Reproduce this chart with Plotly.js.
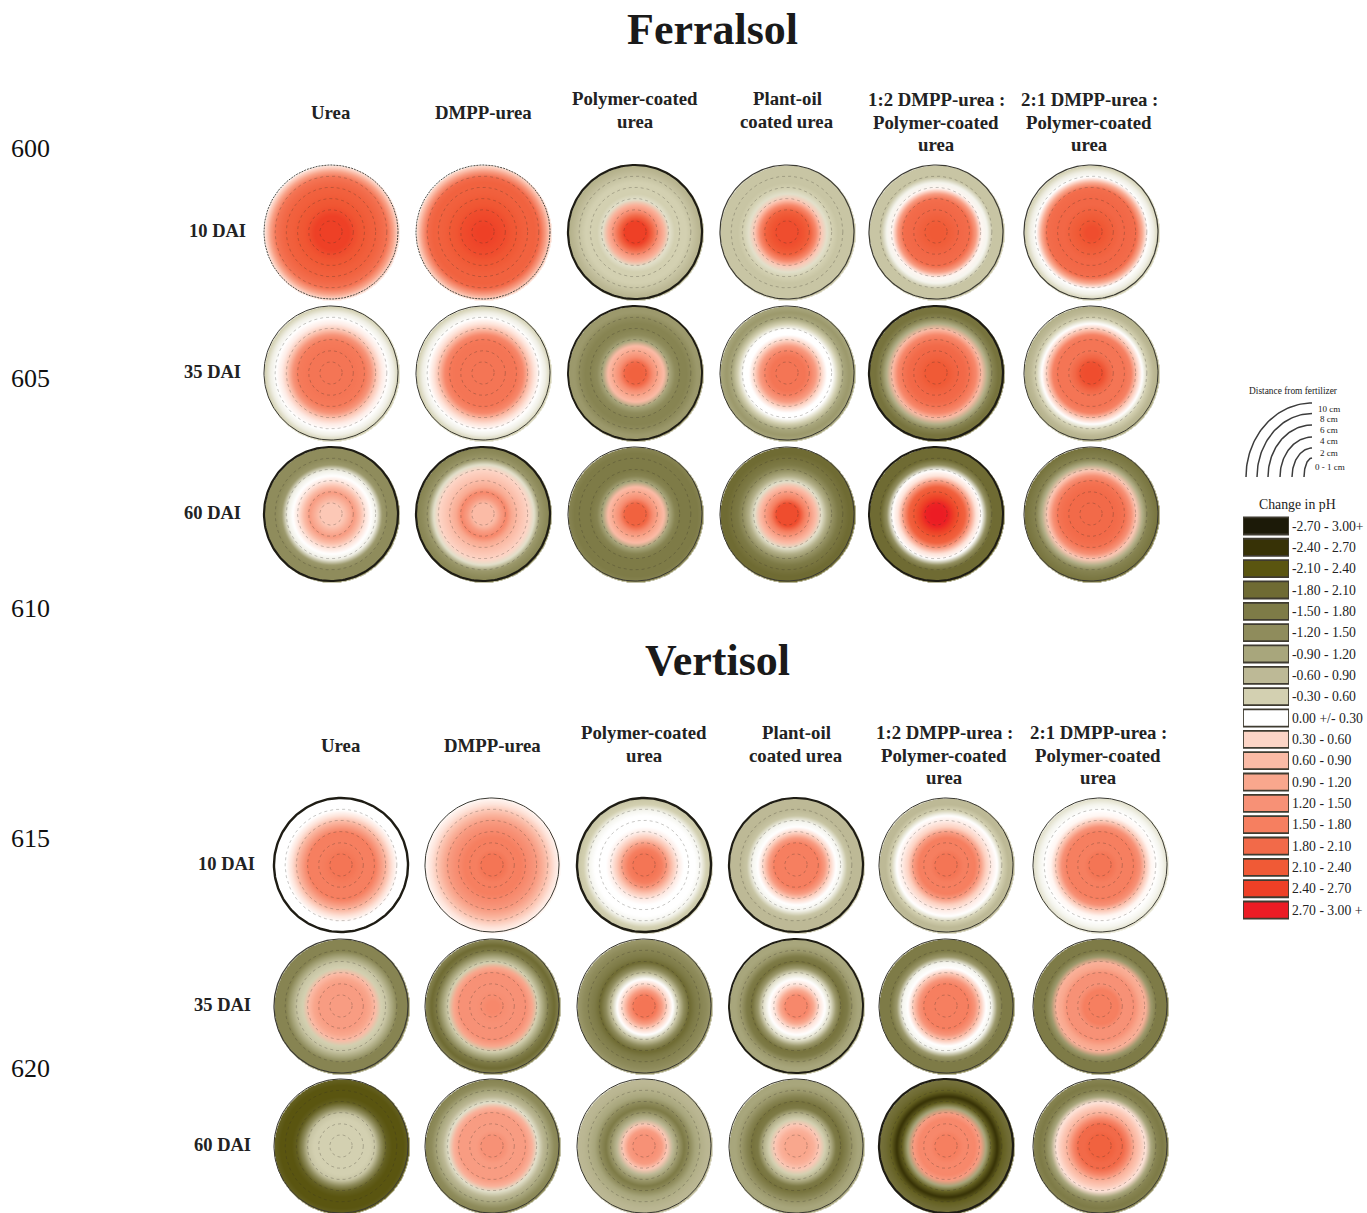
<!DOCTYPE html>
<html><head><meta charset="utf-8">
<script src="https://cdn.plot.ly/plotly-3.0.1.min.js"></script>
<style>html,body{margin:0;padding:0;background:#fff}</style></head>
<body><div id="chart" style="width:1367px;height:1213px"></div>
<script>
// ---------- categories ----------
const treatments = ["Urea","DMPP-urea","Polymer-coated<br>urea","Plant-oil<br>coated urea","1:2 DMPP-urea :<br>Polymer-coated<br>urea","2:1 DMPP-urea :<br>Polymer-coated<br>urea"];
const days = ["10 DAI","35 DAI","60 DAI"];
const soils = ["Ferralsol","Vertisol"];
// ---------- legend ----------
const classLabels = ["-2.70 - 3.00+","-2.40 - 2.70","-2.10 - 2.40","-1.80 - 2.10","-1.50 - 1.80","-1.20 - 1.50","-0.90 - 1.20","-0.60 - 0.90","-0.30 - 0.60","0.00 +/- 0.30","0.30 - 0.60","0.60 - 0.90","0.90 - 1.20","1.20 - 1.50","1.50 - 1.80","1.80 - 2.10","2.10 - 2.40","2.40 - 2.70","2.70 - 3.00 +"];
const classMids = [-2.85,-2.55,-2.25,-1.95,-1.65,-1.35,-1.05,-0.75,-0.45,0,0.45,0.75,1.05,1.35,1.65,1.95,2.25,2.55,2.85];
const classColors = ["#1c1a08","#373206","#5a5510","#6f6b33","#7e7b47","#8f8c5c","#a8a67c","#bdb996","#d3d0b1","#ffffff","#fdd5c6","#fbbba6","#f9a78d","#f79176","#f67f60","#f26a49","#f05a36","#ee4026","#ec1c24"];
const distanceLabels = ["10 cm","8 cm","6 cm","4 cm","2 cm","0 - 1 cm"];
const sideNumbers = [600,605,610,615,620];
// ---------- radial profiles: pH change at ring position 0,0.5,1,...,6 (ring 1 = 0-1 cm ... ring 6 = 10 cm) ----------
const ferralsol10 = [
 [2.55,2.55,2.55,2.55,2.4,2.3,2.25,2.15,2.1,1.95,1.8,1.1,0.3],
 [2.55,2.55,2.5,2.45,2.4,2.3,2.25,2.15,2.1,2.1,1.95,1.2,0.4],
 [2.55,2.55,2.55,2.0,1.35,0.9,-0.3,-0.45,-0.45,-0.45,-0.6,-0.75,-0.9],
 [2.4,2.4,2.4,2.3,2.1,1.5,0.6,-0.3,-0.45,-0.6,-0.6,-0.6,-0.6],
 [2.25,2.25,2.2,2.1,2.0,1.95,1.9,1.2,0.1,-0.1,-0.6,-0.6,-0.6],
 [2.4,2.4,2.3,2.2,2.1,2.0,2.0,1.95,1.9,1.0,0,-0.15,-0.45]];
const ferralsol35 = [
 [1.8,1.8,1.8,1.8,1.8,1.75,1.7,1.3,0.6,0.2,0,-0.15,-0.45],
 [1.8,1.8,1.8,1.8,1.8,1.8,1.75,1.5,0.75,0.3,0,-0.15,-0.45],
 [2.1,2.1,2.0,1.4,1.05,0.75,-1.05,-1.35,-1.5,-1.5,-1.35,-1.2,-1.2],
 [1.8,1.8,1.8,1.8,1.6,1.2,0.45,0,0,-0.45,-1.05,-1.2,-1.05],
 [2.25,2.25,2.25,2.1,2.0,1.95,1.8,1.5,0.75,-0.9,-1.5,-1.8,-1.8],
 [2.4,2.4,2.35,2.0,1.8,1.8,1.8,1.6,0.6,0,-0.45,-0.75,-0.9]];
const ferralsol60 = [
 [0.6,0.6,0.6,0.9,1.2,0.75,0.3,0,-0.15,-1.2,-1.35,-1.35,-1.35],
 [0.75,0.75,0.75,1.2,1.5,1.0,0.75,0.6,0.45,-0.3,-1.2,-1.35,-1.5],
 [2.1,2.1,2.05,1.4,1.05,0.75,-1.05,-1.5,-1.65,-1.65,-1.65,-1.65,-1.5],
 [2.4,2.4,2.4,1.65,1.2,0.75,-0.3,-0.9,-1.3,-1.65,-1.8,-1.95,-1.95],
 [2.85,2.85,2.8,2.55,2.3,2.1,1.2,0.3,0,-1.3,-1.95,-1.95,-1.95],
 [1.95,1.95,1.95,1.95,1.95,1.9,1.8,1.35,0.6,-0.9,-1.5,-1.65,-1.8]];
const vertisol10 = [
 [1.8,1.8,1.8,1.7,1.65,1.65,1.65,1.2,0.75,0.3,0,0,0],
 [1.8,1.8,1.8,1.65,1.65,1.65,1.5,1.35,1.2,0.9,0.6,0.3,0.1],
 [1.8,1.8,1.8,1.65,1.2,0.6,0.2,0,0,0,-0.1,-0.45,-0.6],
 [1.65,1.65,1.65,1.65,1.65,1.2,0.45,0,-0.1,-0.6,-0.75,-0.75,-0.75],
 [1.8,1.8,1.8,1.65,1.65,1.65,1.2,0.5,0.2,0,-0.45,-0.75,-0.75],
 [1.8,1.8,1.8,1.65,1.65,1.65,1.65,1.35,0.6,0.1,0,-0.1,-0.3]];
const vertisol35 = [
 [1.2,1.2,1.2,1.2,1.2,1.05,0.75,-0.45,-0.6,-1.05,-1.5,-1.5,-1.5],
 [1.5,1.5,1.4,1.35,1.35,1.35,1.35,1.05,-0.45,-1.05,-1.65,-1.95,-1.5],
 [1.8,1.8,1.75,1.2,0.45,0,-0.6,-1.35,-1.95,-1.65,-1.5,-1.35,-1.2],
 [1.5,1.5,1.5,1.0,0.3,0,-0.3,-1.2,-1.8,-1.65,-1.2,-1.05,-1.05],
 [1.65,1.65,1.65,1.65,1.65,1.3,0.6,0,-0.1,-1.2,-1.65,-1.65,-1.65],
 [1.65,1.65,1.65,1.65,1.35,1.35,1.35,1.05,0.9,-1.2,-1.65,-1.65,-1.65]];
const vertisol60 = [
 [-0.45,-0.45,-0.45,-0.45,-0.45,-0.45,-0.6,-1.35,-2.1,-2.25,-2.25,-2.25,-2.1],
 [1.35,1.35,1.35,1.2,1.2,1.2,1.2,0.9,-0.3,-0.75,-1.05,-1.35,-1.5],
 [1.35,1.35,1.35,1.2,0.6,-0.75,-1.2,-1.65,-1.35,-1.05,-0.9,-0.8,-0.75],
 [1.05,1.05,1.05,0.9,0.6,-0.45,-0.9,-1.65,-1.8,-1.5,-1.2,-1.05,-1.05],
 [1.65,1.65,1.65,1.5,1.5,1.5,1.2,-1.05,-2.1,-2.55,-2.1,-1.95,-1.8],
 [2.1,2.1,2.1,1.95,1.95,1.5,0.9,0.6,0.3,-1.05,-1.5,-1.65,-1.5]];
const allProfiles = [ferralsol10,ferralsol35,ferralsol60,vertisol10,vertisol35,vertisol60];

// ---------- layout geometry and styles (page pixels) ----------
const colX = [[331,483,635,787,936,1091],[341,492,644,796,946,1100]];
const rowY = [[232,373,514],[865,1006,1146]];
const ringPx = 11.17;
const edgeW = [[.9,.9,2.2,1.2,1.2,1.2],[1,1,1.9,1,2.2,1],[2.2,2.2,1,1,2,1],[2.4,1,2.4,2.2,1,1],[1.2,1,1,1.9,1,1],[1,1,1,1,2.2,1]];
const dashEdges = {"0,0":1,"0,1":1};
const serif = "'Liberation Serif','Times New Roman',serif";

function valueColor(v){
  const c = classColors.map(h=>[1,3,5].map(i=>parseInt(h.substr(i,2),16)));
  if(v<=classMids[0]) return "rgb("+c[0]+")";
  for(let i=1;i<classMids.length;i++){
    if(v<=classMids[i]){const t=(v-classMids[i-1])/(classMids[i]-classMids[i-1]);
      return "rgb("+c[i].map((x,k)=>Math.round(c[i-1][k]+(x-c[i-1][k])*t))+")";}
  }
  return "rgb("+c[c.length-1]+")";
}
function circle(cx,cy,rx,ry,a0,a1){
  const xs=[],ys=[];
  for(let a=a0;a<=a1+1e-9;a+=2){xs.push(cx+rx*Math.cos(a*Math.PI/180));ys.push(cy+ry*Math.sin(a*Math.PI/180));}
  return [xs,ys];
}
const traces=[];
allProfiles.forEach((block,b)=>{
  const s=b<3?0:1, d=b%3;
  block.forEach((prof,t)=>{
    const cx=colX[s][t], cy=rowY[s][d], n=68, z=[], coords=[];
    for(let i=-n;i<=n;i++){coords.push(i);}
    for(const j of coords){const row=[];
      for(const i of coords){const r=Math.hypot(i,j)/ringPx; row.push(Math.hypot(i,j)<=6*ringPx+0.6?Math.min(r,6):null);}
      z.push(row);}
    traces.push({type:"heatmap",x:coords.map(i=>cx+i),y:coords.map(j=>cy+j),z:z,zmin:0,zmax:6,zsmooth:"best",
      colorscale:prof.map((v,i)=>[i/12,valueColor(v)]),showscale:false,hoverinfo:"skip"});
    const xs=[],ys=[];
    for(let k=1;k<=5;k++){const p=circle(cx,cy,k*ringPx,k*ringPx,0,360);xs.push(...p[0],null);ys.push(...p[1],null);}
    traces.push({type:"scatter",mode:"lines",x:xs,y:ys,line:{color:"rgba(45,40,35,0.38)",width:0.7,dash:"dot"},hoverinfo:"skip",showlegend:false});
    const e=circle(cx,cy,6*ringPx,6*ringPx,0,360), w=edgeW[b][t];
    traces.push({type:"scatter",mode:"lines",x:e[0],y:e[1],line:{color:w>1.5?"#1e1c14":"#3b3a33",width:w,dash:dashEdges[b+","+t]?"2px,1px":"solid"},hoverinfo:"skip",showlegend:false});
  });
});
// distance key arcs
const arcRx=[66,55,44,32,20,8], arcRy=[74,63.5,52,40,29,19];
arcRx.forEach((rx,i)=>{const p=circle(1312,477,rx,arcRy[i],180,270);
  traces.push({type:"scatter",mode:"lines",x:p[0],y:p[1],line:{color:"#3c3c3c",width:1.5},hoverinfo:"skip",showlegend:false});});
// colour legend as a bar chart
traces.push({type:"bar",orientation:"h",xaxis:"x2",yaxis:"y2",y:classLabels,x:classLabels.map(()=>1),width:0.8,
  marker:{color:classColors,line:{color:"#3f3b30",width:1.8}},hoverinfo:"skip",showlegend:false,customdata:classMids});

const ann=[];
const txt=(x,y,t,size,bold,color)=>ann.push({x:x,y:y,xref:"x",yref:"y",text:bold?"<b>"+t+"</b>":t,showarrow:false,xanchor:"center",yanchor:"middle",
  font:{family:serif,size:size,color:color||"#222"}});
txt(712,29,soils[0],44,true,"#1a1a1a"); txt(717,660,soils[1],44,true,"#1a1a1a");
const labelY=[[112,112,110,110,122,122],[745,745,744,744,755,755]];
const labelX=[[331,483,635,787,936,1089],[341,492,644,796,944,1098]];
const lineStep=22.8;
treatments.forEach((t,i)=>{const lines=t.split("<br>");
  lines.forEach((ln,k)=>{const off=(k-(lines.length-1)/2)*lineStep;
    txt(labelX[0][i],labelY[0][i]+off,ln,18.8,true);txt(labelX[1][i],labelY[1][i]+off,ln,18.8,true);});});
const dayX=[[217,212,212],[226,222,222]];
days.forEach((t,i)=>{txt(dayX[0][i],rowY[0][i]-1,t,18.5,true);txt(dayX[1][i],rowY[1][i]-1,t,18.5,true);});
sideNumbers.forEach((t,i)=>txt(30,148+230*i,String(t),26,false,"#111"));
txt(1293.5,391,"Distance from fertilizer",9.4,false);
const distY=[409,419,430,441,453,467];
distanceLabels.forEach((t,i)=>txt(i==5?1330:1329,distY[i],t,9,false));
txt(1297,504,"Change in pH",13.8,false);

const layout={width:1367,height:1213,margin:{l:0,r:0,t:0,b:0},paper_bgcolor:"#fff",plot_bgcolor:"rgba(0,0,0,0)",showlegend:false,
  xaxis:{range:[0,1367],visible:false,domain:[0,1],fixedrange:true},
  yaxis:{range:[1213,0],visible:false,domain:[0,1],fixedrange:true},
  xaxis2:{domain:[1243/1367,1289/1367],range:[0,1],visible:false,anchor:"y2",fixedrange:true},
  yaxis2:{domain:[1-920.7/1213,1-515.3/1213],anchor:"x2",side:"right",type:"category",categoryorder:"array",categoryarray:classLabels,autorange:"reversed",
    showgrid:false,zeroline:false,showline:false,ticks:"",ticklabelstandoff:2,tickmode:"array",tickvals:classLabels,ticktext:classLabels,automargin:false,
    tickfont:{family:serif,size:13.7,color:"#222"},fixedrange:true},
  annotations:ann};
Plotly.newPlot("chart",traces,layout,{displayModeBar:false,staticPlot:true});
</script></body></html>
